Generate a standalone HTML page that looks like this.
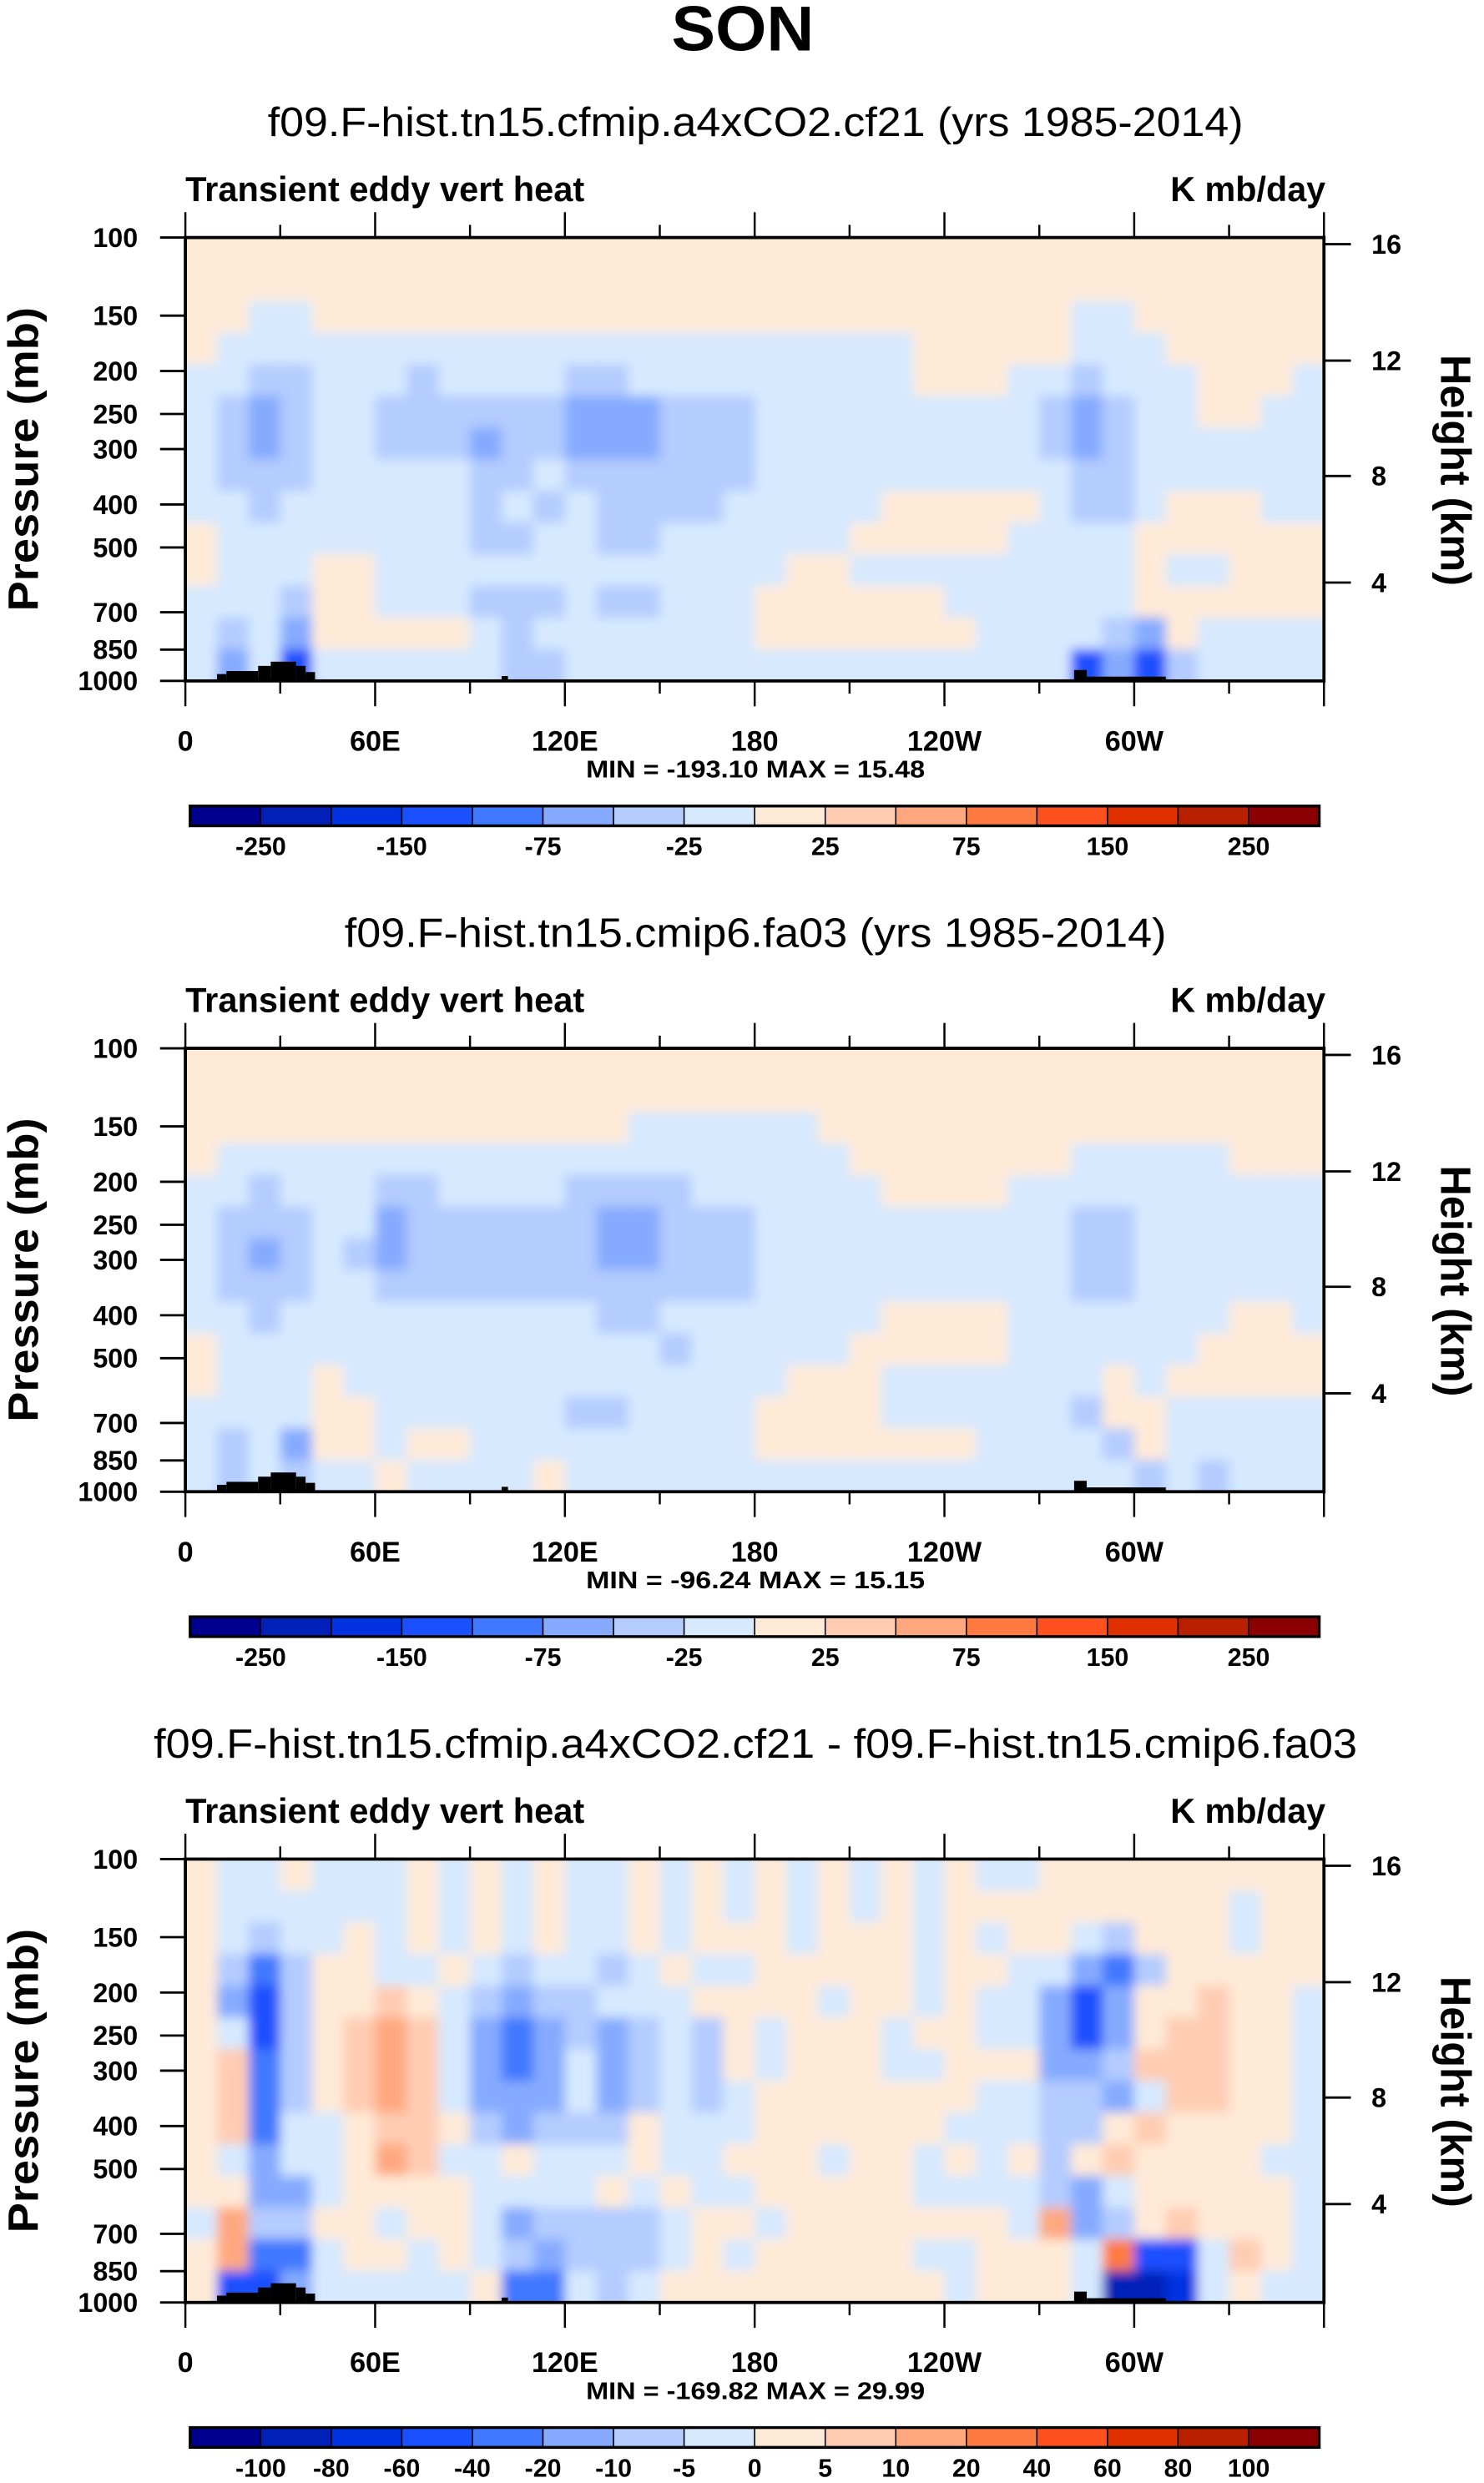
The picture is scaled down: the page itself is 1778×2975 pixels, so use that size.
<!DOCTYPE html>
<html><head><meta charset="utf-8"><title>SON Transient eddy vert heat</title>
<style>
html,body{margin:0;padding:0;background:#fff;}
svg{display:block;}
text{font-family:"Liberation Sans",sans-serif;fill:#000;}
</style></head>
<body>
<svg id="fig" xmlns="http://www.w3.org/2000/svg" width="1778" height="2975" viewBox="0 0 937 1568">
<defs>
<filter id="soft" x="-5%" y="-5%" width="110%" height="110%"><feGaussianBlur stdDeviation="3.5"/></filter>
</defs>
<rect x="0" y="0" width="937" height="1568" fill="#fff"/>
<text x="469" y="32" text-anchor="middle" font-size="40" font-weight="bold" textLength="90" lengthAdjust="spacingAndGlyphs">SON</text>
</svg>
<script>
// colour table (16 bins)
const palette = ["#00008f","#0020b8","#0032e0","#1a50ff","#4078ff","#85aaff","#b4ccff","#d6e9ff","#ffead8","#ffccb2","#ffa880","#ff7a40","#ff5020","#e03000","#b82000","#8b0000"];
const levelsAbs = ["-250","-200","-150","-100","-75","-50","-25","0","25","50","75","100","150","200","250"];
const levelsDiff = ["-100","-80","-60","-40","-20","-10","-5","0","5","10","20","40","60","80","100"];
const pressureTicks = [100,150,200,250,300,400,500,700,850,1000];
const heightTicks = [16,12,8,4];
const heightTickPressure = [103.5,189.5,345,600]; // pressure where height tick falls
const lonTicks = [0,60,120,180,240,300];
const lonLabels = ["0","60E","120E","180","120W","60W"];
const titles = ["f09.F-hist.tn15.cfmip.a4xCO2.cf21 (yrs 1985-2014)","f09.F-hist.tn15.cmip6.fa03 (yrs 1985-2014)","f09.F-hist.tn15.cfmip.a4xCO2.cf21 - f09.F-hist.tn15.cmip6.fa03"];
const titleWidths = [616,519,760];
const minmax = ["MIN = -193.10  MAX =  15.48","MIN = -96.24  MAX =  15.15","MIN = -169.82  MAX =  29.99"];
// gridded field: 14 rows (100mb -> 1000mb, log-p) x 36 cols (10 deg each), values = colour bin index (hex)
const field1 = [
"888888888888888888888888888888888888",
"888888888888888888888888888888888888",
"887788888888888888888888888877888888",
"877777777777777777777778888877788888",
"776677767777667777777778887767778887",
"765677666666555666777777777656778877",
"765677666566555666777777777656777777",
"766677777667666666777777777766777777",
"776777777676766667777788888766788877",
"877777777667766777777888887777888888",
"877788777777777777788777777777877888",
"777688777666766777888888777777888888",
"767588888767777777888888877776587777",
"757377777766777777777777777735367777"];
const field2 = [
"888888888888888888888888888888888888",
"888888888888888888888888888888888888",
"888888888888887777778888888888888888",
"877777777777777777777888888877777888",
"776777667777666677777788887777777777",
"766677566666655666777777777766777777",
"765676566666655666777777777766777777",
"766677666666666666777777777766777777",
"776777777777766777777788887777777887",
"877777777777777677777888887777778888",
"877787777777777777788877777778788888",
"777788777777667777888877777768877777",
"767588788777777777888888877776877777",
"767677877778777777777777777777676777"];
const field3 = [
"877877787878778787878787877888888888",
"877777787878778787878787888888888788",
"876778787878778788878887878876888788",
"864688778767767877888887887754688888",
"853688987656677788887887877535889887",
"873689a97545656768788878877535899887",
"894689a97545756768788877888556999887",
"894689a97555756767888888877665799887",
"894778998656668777888888777668988887",
"875778a97787778778887887878689888877",
"885578888777787877888887777657888887",
"7a6688788756666788788888887a56898887",
"8a447887876566678788888778887b337987",
"833577777844767888888888788871127877"];
const fields = [field1, field2, field3];
const panelOffsets = [0, 512, 1024];
const colorLevels = [levelsAbs, levelsAbs, levelsDiff];
// topography (black mask): [lon start, lon end, top pressure]
const topo = [[10,13,965],[13,23,950],[23,27,925],[27,35,905],[35,38,925],[38,41,955],[100,102,975],[281,285,945],[285,310,978]];

const NS = "http://www.w3.org/2000/svg";
const svg = document.getElementById("fig");
const defs = svg.querySelector("defs");
const X0 = 117, X1 = 836, PW = X1 - X0;
function xs(lon){ return X0 + lon / 360 * PW; }
function ysFactory(top){ const h = 280; return function(p){ return top + (Math.log(p) - Math.log(100)) / (Math.log(1000) - Math.log(100)) * h; }; }
function mk(tag, attrs, parent){ const e = document.createElementNS(NS, tag); for (const k in attrs) e.setAttribute(k, attrs[k]); (parent || svg).appendChild(e); return e; }

fields.forEach(function(field, pi){
  const off = panelOffsets[pi];
  const top = 150 + off;
  const ys = ysFactory(top);
  const g = mk("g", {});
  
  

  const cp = mk("clipPath", {id: "clip" + pi}, defs);
  mk("rect", {x: X0, y: top, width: PW, height: 280}, cp);

  let t = mk("text", {x: 477, y: 86 + off, "text-anchor": "middle", "font-size": 26, textLength: titleWidths[pi], lengthAdjust: "spacingAndGlyphs"}, g);
  t.textContent = titles[pi];
  
  

  t = mk("text", {x: 117, y: 127 + off, "font-size": 22, "font-weight": "bold", textLength: 252, lengthAdjust: "spacingAndGlyphs"}, g);
  t.textContent = "Transient eddy vert heat";
  
  

  t = mk("text", {x: 837, y: 127 + off, "text-anchor": "end", "font-size": 22, "font-weight": "bold", textLength: 98, lengthAdjust: "spacingAndGlyphs"}, g);
  t.textContent = "K mb/day";
  
  

  // cells
  const nr = field.length, nc = field[0].length;
  const clipG = mk("g", {"clip-path": "url(#clip" + pi + ")"}, g);
  const cells = mk("g", {filter: "url(#soft)"}, clipG);
  
  
  for (let r = 0; r < nr; r++) {
    for (let c = 0; c < nc; c++) {
      const v = parseInt(field[r][c], 16);
      let x = xs(c * 360 / nc), x2 = xs((c + 1) * 360 / nc);
      let y = top + r * 280 / nr, y2 = top + (r + 1) * 280 / nr;
      if (c === 0) x -= 8;
      if (c === nc - 1) x2 += 8;
      if (r === 0) y -= 8;
      if (r === nr - 1) y2 += 8;
      const cell = mk("rect", {x: x, y: y, width: x2 - x + 0.6, height: y2 - y + 0.6, fill: palette[v]}, cells);
      
      
    }
  }
  // topography
  topo.forEach(function(b){
    const tr = mk("rect", {x: xs(b[0]), y: ys(b[2]), width: xs(b[1]) - xs(b[0]), height: ys(1000) - ys(b[2]), fill: "#000"}, g);
    
    
  });
  // frame
  const fr = mk("rect", {x: X0, y: top, width: PW, height: 280, fill: "none", stroke: "#000", "stroke-width": 2}, g);
  
  

  // pressure ticks & labels
  pressureTicks.forEach(function(p){
    const y = ys(p);
    mk("line", {x1: X0 - 16, x2: X0, y1: y, y2: y, stroke: "#000", "stroke-width": 1.5}, g);
    const lt = mk("text", {x: 87, y: y + 6, "text-anchor": "end", "font-size": 17, "font-weight": "bold"}, g);
    lt.textContent = String(p);
    
    
  });
  heightTicks.forEach(function(h, i){
    const y = ys(heightTickPressure[i]);
    mk("line", {x1: X1, x2: X1 + 17, y1: y, y2: y, stroke: "#000", "stroke-width": 1.5}, g);
    const lt = mk("text", {x: 866, y: y + 6, "font-size": 17, "font-weight": "bold"}, g);
    lt.textContent = String(h);
    
    
  });
  // lon ticks
  for (let lon = 0; lon <= 360; lon += 30) {
    const x = xs(lon), L = (lon % 60 === 0) ? 16 : 8;
    mk("line", {x1: x, x2: x, y1: top - L, y2: top, stroke: "#000", "stroke-width": 1.3}, g);
    mk("line", {x1: x, x2: x, y1: top + 280, y2: top + 280 + L, stroke: "#000", "stroke-width": 1.3}, g);
  }
  lonTicks.forEach(function(lon, i){
    const lt = mk("text", {x: xs(lon), y: 474 + off, "text-anchor": "middle", "font-size": 18, "font-weight": "bold"}, g);
    lt.textContent = lonLabels[i];
    
    
  });
  t = mk("text", {x: 477, y: 491 + off, "text-anchor": "middle", "font-size": 15, "font-weight": "bold", textLength: 214, lengthAdjust: "spacingAndGlyphs"}, g);
  t.textContent = minmax[pi];
  
  

  t = mk("text", {x: 0, y: 0, "text-anchor": "middle", "font-size": 27, "font-weight": "bold", transform: "translate(24," + (290 + off) + ") rotate(-90)", textLength: 192, lengthAdjust: "spacingAndGlyphs"}, g);
  t.textContent = "Pressure (mb)";
  
  
  t = mk("text", {x: 0, y: 0, "text-anchor": "middle", "font-size": 27, "font-weight": "bold", transform: "translate(910," + (297 + off) + ") rotate(90)", textLength: 146, lengthAdjust: "spacingAndGlyphs"}, g);
  t.textContent = "Height (km)";
  
  

  // colorbar
  const cb = mk("g", {}, g);
  
  
  const cbx0 = 120, cbx1 = 833, cby = 509 + off, cbh = 12.5, bw = (cbx1 - cbx0) / palette.length;
  palette.forEach(function(col, i){
    const b = mk("rect", {x: cbx0 + i * bw, y: cby, width: bw, height: cbh, fill: col, stroke: "#000", "stroke-width": 0.8}, cb);
    
    
  });
  mk("rect", {x: cbx0, y: cby, width: cbx1 - cbx0, height: cbh, fill: "none", stroke: "#000", "stroke-width": 1.8}, cb);
  const lv = colorLevels[pi];
  lv.forEach(function(l, i){
    if (pi < 2 && i % 2 === 1) return;
    const lt = mk("text", {x: cbx0 + (i + 1) * bw, y: cby + 31, "text-anchor": "middle", "font-size": 16, "font-weight": "bold"}, cb);
    lt.textContent = l;
    
    
  });
});
</script>
</body></html>
